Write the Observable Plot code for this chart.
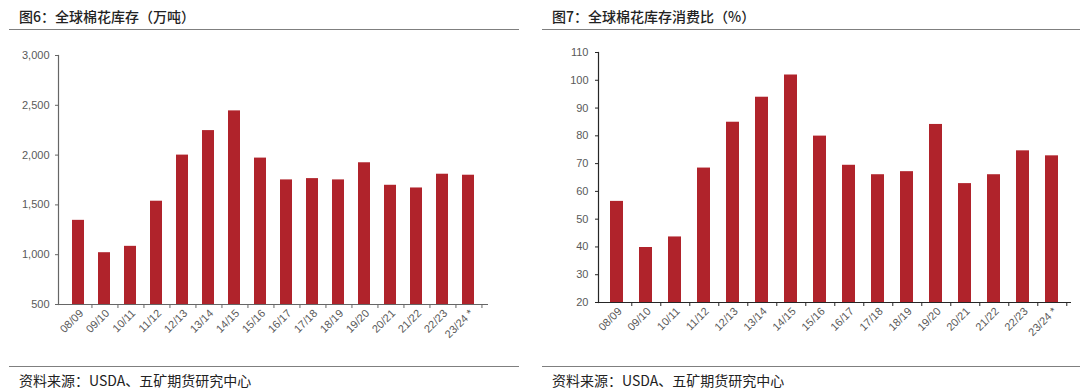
<!DOCTYPE html>
<html><head><meta charset="utf-8">
<script src="https://cdn.jsdelivr.net/npm/d3@7"></script>
<script src="https://cdn.jsdelivr.net/npm/@observablehq/plot@0.6"></script>
<style>
body{margin:0;background:#fff;}
#wrap{position:relative;width:1080px;height:389px;background:#fff;overflow:hidden;font-family:"Noto Sans CJK SC","Noto Sans",sans-serif;}
.t{position:absolute;font-size:14px;line-height:20px;color:#222;font-weight:500;white-space:nowrap;}
.src{position:absolute;font-size:14px;line-height:14px;color:#222;white-space:nowrap;}
.hl{position:absolute;height:1px;background:#7f7f7f;}
.p{position:absolute;top:30px;}
</style></head>
<body><div id="wrap">
<div class="t" style="left:19px;top:6px;">图6：全球棉花库存（万吨）</div>
<div class="t" style="left:552px;top:6px;">图7：全球棉花库存消费比（%）</div>
<div class="hl" style="left:9px;width:510px;top:29px;"></div>
<div class="hl" style="left:542px;width:538px;top:29px;"></div>
<div class="hl" style="left:9px;width:510px;top:366px;"></div>
<div class="hl" style="left:542px;width:538px;top:366px;"></div>
<div class="src" style="left:19px;top:373px;">资料来源：USDA、五矿期货研究中心</div>
<div class="src" style="left:552px;top:373px;">资料来源：USDA、五矿期货研究中心</div>
<div class="p" id="left" style="left:0px;"></div>
<div class="p" id="right" style="left:540px;"></div>
</div>
<script>
const seasons = ["08/09","09/10","10/11","11/12","12/13","13/14","14/15","15/16","16/17","17/18","18/19","19/20","20/21","21/22","22/23","23/24 *"];
const stocks = [1345, 1020, 1084, 1537, 2000, 2246, 2444, 1970, 1751, 1764, 1751, 1923, 1697, 1670, 1808, 1798];
const ratios = [56.4, 39.8, 43.6, 68.4, 84.9, 93.9, 101.9, 79.9, 69.4, 66.0, 67.1, 84.1, 62.8, 66.0, 74.6, 72.8];
const stockTicks = [500, 1000, 1500, 2000, 2500, 3000];
const ratioTicks = [20, 30, 40, 50, 60, 70, 80, 90, 100, 110];

const barColor = "#b0232b";

function makeChart(values, ticks, fmt, opts) {
  const data = seasons.map((s, i) => ({season: s, value: values[i]}));
  const y0 = ticks[0];
  const plotW = 540 - opts.marginLeft - opts.marginRight;
  const half = plotW / seasons.length / 2;
  return Plot.plot({
    width: 540,
    height: 330,
    marginLeft: opts.marginLeft,
    marginRight: opts.marginRight,
    marginTop: opts.marginTop,
    marginBottom: opts.marginBottom,
    style: {fontFamily: "'Liberation Sans', Arial, sans-serif", fontSize: "11px", color: "#595959", background: "transparent"},
    x: {domain: seasons, paddingInner: 0.54, paddingOuter: 0.27, label: null},
    y: {domain: [ticks[0], ticks[ticks.length - 1]], label: null},
    marks: [
      Plot.barY(data, {x: "season", y1: y0, y2: "value", fill: barColor}),
      Plot.axisY({ticks: ticks, tickFormat: fmt, tickSize: 3, tickPadding: opts.tickPad, stroke: opts.axis, fill: "#595959", label: null}),
      Plot.axisX({tickSize: 0, tickPadding: 7, tickRotate: -45, dx: 3, fill: "#595959", label: null}),
      Plot.ruleY([y0], {stroke: opts.axis, strokeWidth: 1.2}),
      Plot.frame({anchor: "left", stroke: opts.axis, strokeWidth: 1.2}),
      Plot.ruleX(seasons, {x: d => d, y1: y0, y2: y0, dx: half, insetTop: 0, insetBottom: -4, stroke: opts.axis})
    ]
  });
}

document.getElementById("left").appendChild(
  makeChart(stocks, stockTicks, d3.format(","), {marginLeft: 58, marginRight: 52, marginTop: 25, marginBottom: 56, tickPad: 6, axis: "#666"})
);
document.getElementById("right").appendChild(
  makeChart(ratios, ratioTicks, d => String(d), {marginLeft: 58, marginRight: 9, marginTop: 22, marginBottom: 58, tickPad: 7, axis: "#262626"})
);
</script>
</body></html>
